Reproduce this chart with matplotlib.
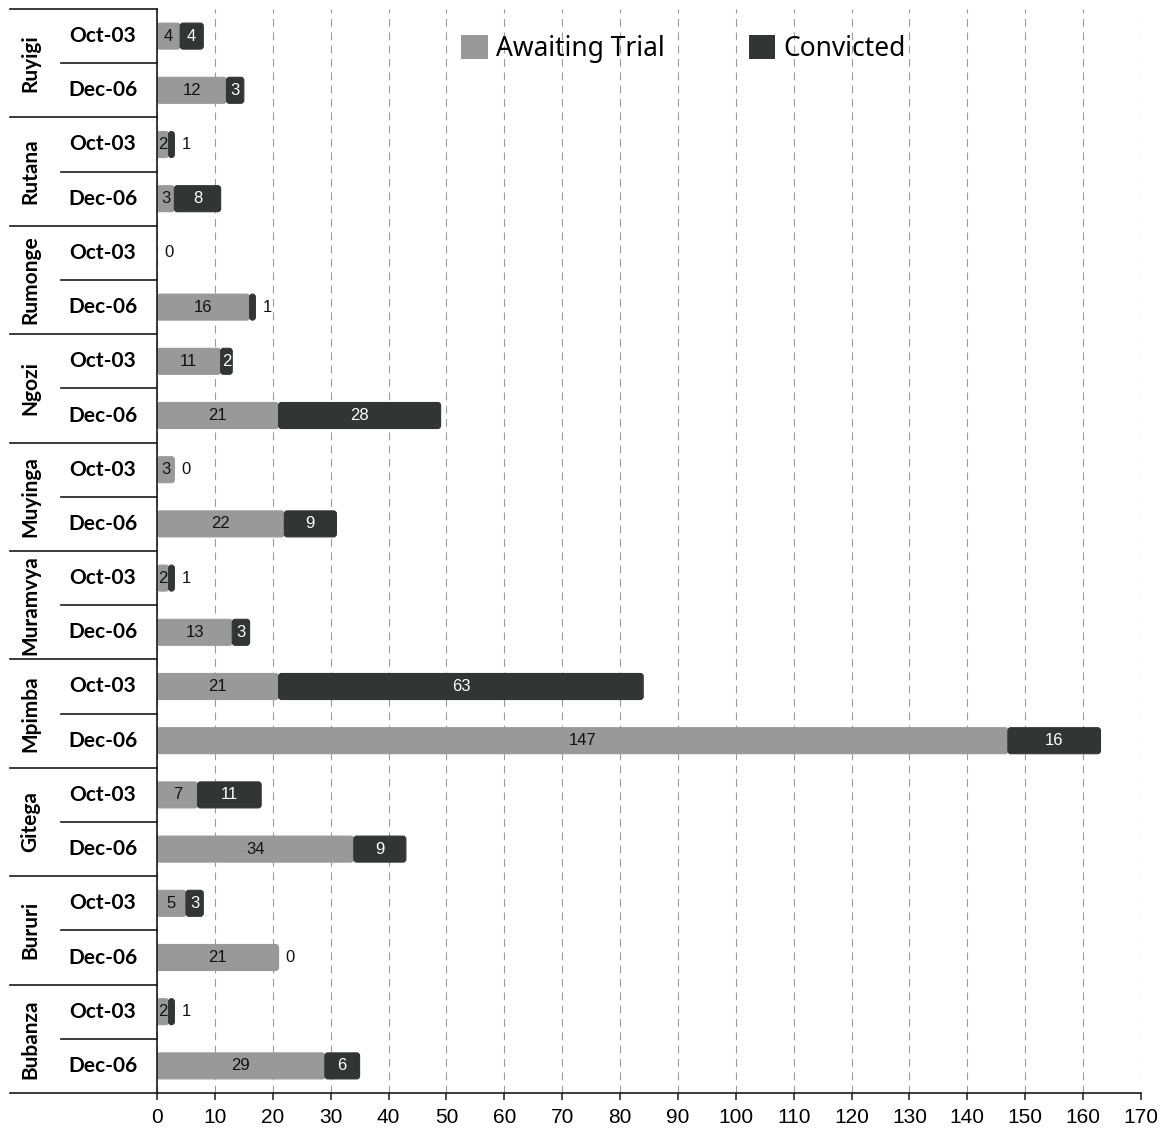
import matplotlib
matplotlib.use('Agg')
import matplotlib.pyplot as plt
from matplotlib.patches import FancyBboxPatch, Patch
import matplotlib.transforms as mtransforms

prisons = ["Ruyigi", "Rutana", "Rumonge", "Ngozi", "Muyinga",
           "Muramvya", "Mpimba", "Gitega", "Bururi", "Bubanza"]
periods = ["Oct-03", "Dec-06"]
awaiting = [4, 12, 2, 3, 0, 16, 11, 21, 3, 22, 2, 13, 21, 147, 7, 34, 5, 21, 2, 29]
convicted = [4, 3, 1, 8, 0, 1, 2, 28, 0, 9, 1, 3, 63, 16, 11, 9, 3, 0, 1, 6]
xticks = list(range(0, 171, 10))

GRAY = "#999999"
DARK = "#333534"
LINE = "#1a1a1a"

fig = plt.figure(figsize=(11.75, 11.34), dpi=100)
ax = fig.add_axes([157 / 1175, 1 - 1093 / 1134, (1141 - 157) / 1175, (1093 - 9) / 1134])

n = len(awaiting)
ypos = list(range(n))
h = 0.48

b1 = ax.barh(ypos, awaiting, height=h, color=GRAY, zorder=2)
b2 = ax.barh(ypos, convicted, left=awaiting, height=h, color=DARK, zorder=3)

ax.set_xlim(0, 170)
ax.set_ylim(n - 0.5, -0.5)

# rounded corners
r = 0.5
asp = (3 / 54.2) / r
for cont, col, z in ((b1, GRAY, 2), (b2, DARK, 3)):
    for bar in cont:
        x, y, w, hh = bar.get_x(), bar.get_y(), bar.get_width(), bar.get_height()
        if w > 0:
            p = FancyBboxPatch((x, y), w, hh,
                               boxstyle=f"round,pad=0,rounding_size={min(r, w / 2)}",
                               mutation_aspect=asp, fc=col, ec=col, lw=0.8, zorder=z)
            ax.add_patch(p)
        bar.remove()

# value labels
lab_font = dict(family=["Liberation Sans", "DejaVu Sans"], fontsize=12)
for i in range(n):
    a, c = awaiting[i], convicted[i]
    if a > 0:
        ax.text(a / 2, i, str(a), ha='center', va='center', color='#111111', zorder=5, **lab_font)
    if c >= 2:
        ax.text(a + c / 2, i, str(c), ha='center', va='center', color='white', zorder=5, **lab_font)
    else:
        ax.annotate(str(c), (a + c, i), xytext=(5, 0), textcoords='offset points',
                    ha='left', va='center', color='#111111', zorder=5, **lab_font)

# grid
ax.set_xticks(xticks)
ax.xaxis.grid(True, linestyle=(0, (7, 5)), color='#9a9a9a', linewidth=0.8)
ax.set_axisbelow(True)
ax.set_yticks([])
ax.tick_params(axis='x', direction='out', length=5, width=1.1, color=LINE, pad=6,
               labelsize=15)
for lbl in ax.get_xticklabels():
    lbl.set_family(["Liberation Sans", "DejaVu Sans"])
for s in ("top", "right"):
    ax.spines[s].set_visible(False)
for s in ("left", "bottom"):
    ax.spines[s].set_color(LINE)
    ax.spines[s].set_linewidth(1.2)

# hierarchical category labels
blend = mtransforms.blended_transform_factory(ax.transAxes, ax.transData)
x_outer = (10 - 157) / 984
x_inner = (61 - 157) / 984
x_date = (103 - 157) / 984
x_prison = (30 - 157) / 984
cat_font = dict(family=["Lato", "Open Sans", "DejaVu Sans"], fontweight='bold')
for g, name in enumerate(prisons):
    top = 2 * g - 0.5
    ax.plot([x_outer, 0], [top, top], transform=blend, clip_on=False, color=LINE, lw=1.2)
    ax.plot([x_inner, 0], [top + 1, top + 1], transform=blend, clip_on=False, color=LINE, lw=1.2)
    ax.text(x_prison, 2 * g + 0.5, name, transform=blend, rotation=90,
            ha='center', va='center', fontsize=15, **cat_font)
    for k, per in enumerate(periods):
        ax.text(x_date, 2 * g + k, per, transform=blend, ha='center', va='center',
                fontsize=15, **cat_font)
ax.plot([x_outer, 0], [n - 0.5, n - 0.5], transform=blend, clip_on=False, color=LINE, lw=1.2)

# legend
handles = [Patch(facecolor=GRAY, edgecolor='none', label="Awaiting Trial"),
           Patch(facecolor=DARK, edgecolor='none', label="Convicted")]
leg = ax.legend(handles=handles, loc='center', bbox_to_anchor=(0.535, 0.963), ncol=2,
                frameon=False, handlelength=1.0, handleheight=1.0, handletextpad=0.3,
                columnspacing=3.2, prop=dict(family=["Noto Sans", "DejaVu Sans"], size=19))

fig.savefig("out.png", dpi=100)
